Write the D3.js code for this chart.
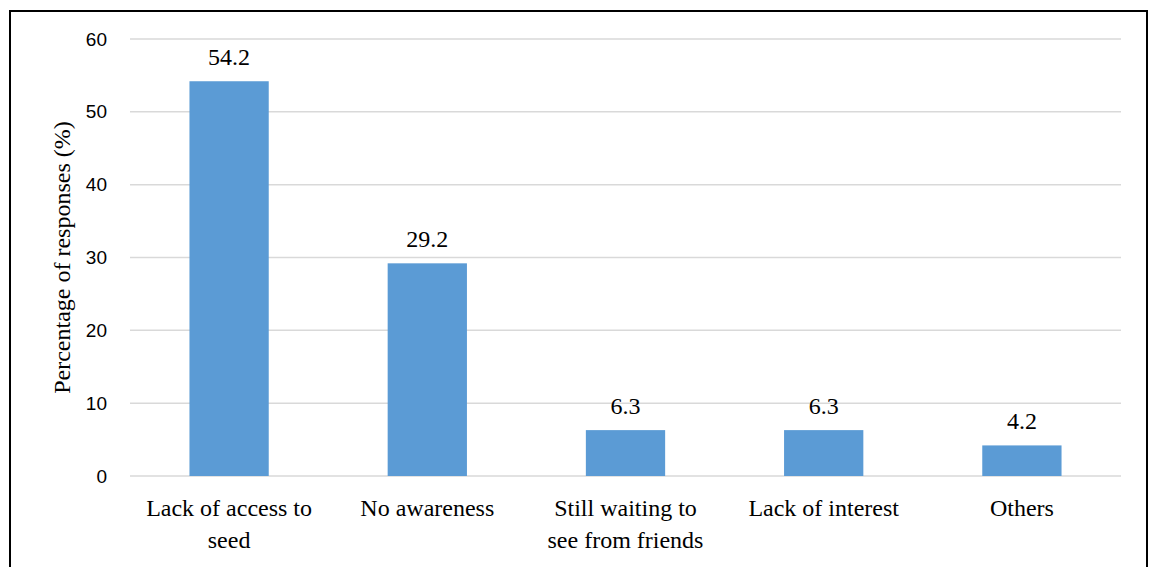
<!DOCTYPE html>
<html><head><meta charset="utf-8">
<script src="https://cdn.jsdelivr.net/npm/d3@7"></script>
<style>body{margin:0;background:#fff;} svg{display:block;}
.serif{font-family:"Liberation Serif","DejaVu Serif",serif;}
.sans{font-family:"Liberation Sans","Open Sans",Arial,sans-serif;}
</style>
</head><body>
<svg id="c" width="1151" height="567"></svg>
<script>
const categories = [["Lack of access to","seed"],["No awareness"],["Still waiting to","see from friends"],["Lack of interest"],["Others"]];
const values = [54.2, 29.2, 6.3, 6.3, 4.2];
const yTicks = [0,10,20,30,40,50,60];
const yTitle = "Percentage of responses (%)";

(function(){
const svg = d3.select("#c");
const pL = 130, pR = 1121, pT = 39, pB = 476;
const x = d3.scaleBand().domain(d3.range(values.length)).range([pL,pR]).padding(0);
const y = d3.scaleLinear().domain([0,60]).range([pB,pT]);

svg.append("rect").attr("x",10).attr("y",11).attr("width",1137).attr("height",600)
  .attr("fill","none").attr("stroke","#000").attr("stroke-width",2);

svg.append("g").selectAll("line").data(yTicks).join("line")
  .attr("x1",pL).attr("x2",pR).attr("y1",d=>y(d)).attr("y2",d=>y(d))
  .attr("stroke","#d9d9d9").attr("stroke-width",1.5);

svg.append("g").selectAll("text").data(yTicks).join("text")
  .attr("class","sans")
  .attr("x",107).attr("y",d=>y(d)).attr("dy","0.35em").attr("text-anchor","end")
  .attr("font-size",19).attr("fill","#000")
  .text(d=>d);

const bw = x.bandwidth()*0.4;
svg.append("g").selectAll("rect").data(values).join("rect")
  .attr("x",(d,i)=>x(i)+x.bandwidth()/2-bw/2).attr("width",bw)
  .attr("y",d=>y(d)).attr("height",d=>pB-y(d)).attr("fill","#5b9bd5");

svg.append("g").selectAll("text").data(values).join("text")
  .attr("class","serif")
  .attr("x",(d,i)=>x(i)+x.bandwidth()/2).attr("y",d=>y(d)-16)
  .attr("text-anchor","middle")
  .attr("font-size",24).attr("fill","#000").text(d=>d.toFixed(1));

const cl = svg.append("g").selectAll("text").data(categories).join("text")
  .attr("class","serif")
  .attr("text-anchor","middle")
  .attr("font-size",24).attr("fill","#000");
cl.each(function(d,i){
  d3.select(this).selectAll("tspan").data(d).join("tspan")
    .attr("x",x(i)+x.bandwidth()/2).attr("y",(t,j)=>516+j*32).text(t=>t);
});

svg.append("text").attr("class","serif")
  .attr("transform",`translate(70,${(pT+pB)/2}) rotate(-90)`)
  .attr("text-anchor","middle")
  .attr("font-size",24).attr("fill","#000").text(yTitle);
})();
</script>
</body></html>
